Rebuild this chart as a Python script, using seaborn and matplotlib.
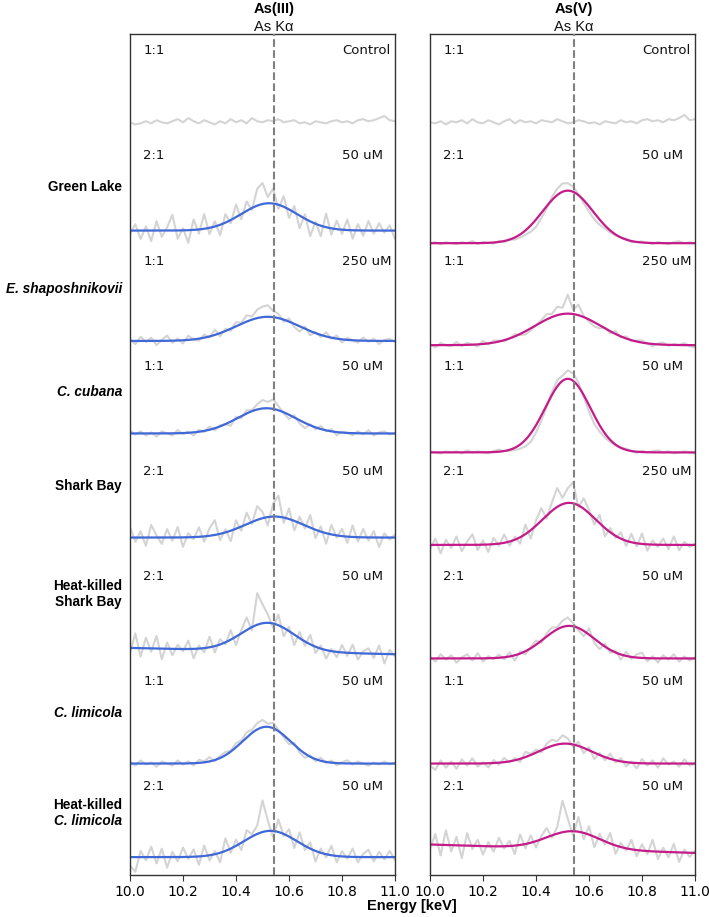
import numpy as np
import pandas as pd
import matplotlib
matplotlib.use("Agg")
import matplotlib.pyplot as plt
import seaborn as sns

# Energy channels of the measured spectra (keV)
energy = np.round(np.linspace(10.0, 11.0, 51), 2)
as_kalpha = 10.544

samples = ["Control", "Green Lake", "E. shaposhnikovii", "C. cubana", "Shark Bay",
           "Heat-killed Shark Bay", "C. limicola", "Heat-killed C. limicola"]

# row labels: list of (text, italic) lines
row_label_lines = [
    [],
    [("Green Lake", False)],
    [("E. shaposhnikovii", True)],
    [("C. cubana", True)],
    [("Shark Bay", False)],
    [("Heat-killed", False), ("Shark Bay", False)],
    [("C. limicola", True)],
    [("Heat-killed", False), ("C. limicola", True)],
]

as3_ratio = ["1:1", "2:1", "1:1", "1:1", "2:1", "2:1", "1:1", "2:1"]
as3_conc = ["Control", "50 uM", "250 uM", "50 uM", "50 uM", "50 uM", "50 uM", "50 uM"]
as5_ratio = ["1:1", "2:1", "1:1", "1:1", "2:1", "2:1", "1:1", "2:1"]
as5_conc = ["Control", "50 uM", "250 uM", "50 uM", "250 uM", "50 uM", "50 uM", "50 uM"]

# Gaussian fit parameters (stacked intensity units, 100 per row)
as3_base = [716, 613, 508, 420, 321, 216, 106, 17]
as3_amp = [0, 26, 23, 24, 20, 27, 35, 25]
as3_center = [10.52, 10.525, 10.52, 10.515, 10.545, 10.52, 10.515, 10.53]
as3_sigma = [0.1, 0.105, 0.12, 0.11, 0.11, 0.1, 0.09, 0.1]
as3_drift = [0, 0, 0, 0, 0, -6, 0, 0]

as5_base = [716, 601, 504, 402, 314, 206, 106, 29]
as5_amp = [0, 50, 30, 70, 40, 31, 19, 17]
as5_center = [10.52, 10.52, 10.52, 10.52, 10.525, 10.525, 10.51, 10.54]
as5_sigma = [0.1, 0.095, 0.125, 0.085, 0.1, 0.095, 0.1, 0.1]
as5_drift = [0, 0, 0, 0, 0, 0, 0, -8]

# measured minus fit, per channel
as3_control = [0, -2, -1, 1, -1, 2, 0, -1, 1, 3, 0, 4, 1, -1, 2, 0, -2, 1, -1, 3, 0, 2, -1, 4, 1, 0,
               2, 1, 3, 0, 1, 2, -1, 0, -2, 1, 0, -1, 1, 2, 0, 1, -1, 2, 3, 1, 2, 4, 6, 2, 1]
as3_green_lake = [-3, 6, -8, 4, -10, 9, -6, 3, 15, -8, 2, -12, 10, -4, 14, -6, 5, -10, 8, -3, 12, -5,
                  9, -2, 16, 20, 6, 14, -4, 10, -8, 6, -12, 4, -14, 2, -10, 13, -6, 8, -4, 10, -8, 6,
                  -5, 9, -3, 7, -2, 5, -8]
as3_e_shap = [2, -3, 4, -1, 3, -4, 1, 5, -2, 2, -3, 4, 0, -2, 3, -1, 5, -3, 2, -2, 4, 1, 6, 3, 8, 10,
              11, 6, 4, -2, 3, -3, -5, 2, -4, 1, -2, 4, -1, 3, -3, 2, 0, -2, 3, -1, 2, -3, 1, 2, -1]
as3_c_cubana = [3, -1, 2, -2, 1, -3, 2, 0, -2, 3, -1, 1, -3, 2, -1, 3, -2, 1, 0, -4, 2, -2, 3, 1, 5, 8,
                6, 9, 4, -1, -4, 2, -3, -5, 1, -2, 3, -1, 2, -3, 1, 0, -2, 2, -1, 3, -2, 1, 2, -1, 0]
as3_shark_bay = [10, -4, 6, -8, 12, 2, -6, 8, -3, 10, -9, 4, -2, 9, -5, 7, 14, -6, 3, -10, 8, -4, 11,
                 -2, 13, 6, -8, 12, 20, -5, 10, -9, 6, -3, 12, -8, 5, -10, 9, -2, 7, -6, 11, -4, 8,
                 -3, 6, -9, 4, -2, 3]
as3_hk_shark_bay = [-5, 14, -8, 10, -3, 12, -10, 6, -6, 4, -2, 8, -9, 3, -4, 10, -6, 5, -2, 9, -8, 3,
                    12, -3, 30, 18, 8, -4, 10, -8, 4, -10, 6, -4, 9, -6, 3, -8, 2, -5, 7, -3, 8, -6,
                    2, 5, -4, 8, -9, 4, -2]
as3_c_limicola = [2, -2, 3, -1, 1, -3, 2, 0, -2, 3, -1, 2, -2, 3, 1, 4, -1, 2, 3, 1, 4, 2, 5, 3, 6, 7,
                  3, 5, 1, -2, -4, 2, -3, -4, 1, -2, 3, -1, 2, -2, 1, 3, -1, 2, 0, -2, 1, -1, 2, -1, 1]
as3_hk_c_limicola = [-8, -14, 6, -3, 10, -6, 8, -10, 5, -4, 9, -2, 7, -8, 10, -5, 3, -9, 12, -4, 6,
                     -7, 9, 2, 8, 30, 10, -6, 12, -2, 7, -8, 10, -4, 6, -10, 4, -3, 9, -6, 5, -2, 8,
                     -5, 3, 7, -4, 5, -2, 6, -3]

as5_control = [0, -1, 1, -2, 1, 0, 2, -1, 3, 0, -1, 2, 0, -2, 1, 3, -1, 2, 0, 1, -1, 2, 1, 0, 3, 1,
               -1, 0, 2, 1, -1, 0, -2, 1, 0, -1, 2, 0, 1, -1, 2, 3, 1, 2, 0, 3, 2, 4, 7, 2, 3]
as5_green_lake = [0, 1, -1, 1, 0, -1, 1, 0, 2, -1, 1, 0, -1, 1, -1, 0, -2, -3, -4, -6, -7, -5, -2, 3,
                  6, 8, 7, 5, 1, -3, -5, -6, -5, -3, -2, -1, 0, 1, -1, 0, 1, 0, -1, 1, 0, -1, 1, 2,
                  0, 1, 0]
as5_e_shap = [1, -2, 2, 0, -1, 3, -1, 2, 0, -2, 3, -1, 2, 1, -1, 0, 2, -1, -3, -2, 0, 2, 5, 3, 8, 6,
              18, 4, 10, 1, -2, -4, -3, 1, -2, 3, -1, 2, -1, 1, 2, 0, -2, 1, 2, -1, 1, 0, 2, -1, -2]
as5_c_cubana = [1, 0, -1, 1, 0, 1, -1, 2, 0, 1, 0, -1, 1, 2, 0, -1, -2, -4, -6, -8, -7, -5, -2, 3, 6,
                5, 8, 7, 4, -2, -6, -8, -6, -4, -2, -1, 0, 1, 0, -1, 1, 0, 1, 2, 0, 1, -1, 0, 1, 0, -1]
as5_shark_bay = [-4, 6, -8, 5, -3, 8, -6, 3, 10, -5, 4, -7, 6, -2, 8, -4, 3, -6, 9, -8, 5, 12, -3, 8,
                 18, 6, 14, 20, -2, 10, 3, -6, 8, -8, 4, -2, 6, -5, 8, -3, 10, -6, 4, -2, 6, -4, 8,
                 -5, 3, -2, 1]
as5_hk_shark_bay = [2, -3, 4, -1, 3, -4, 1, 4, -2, 5, -3, 2, -1, 3, -2, 4, -5, 2, -3, 1, 4, -2, 3, 5,
                    2, 6, 8, 3, -2, -5, 6, -4, -6, 3, -3, 2, -5, 4, -2, 3, 5, -3, 2, -4, 3, -1, 4,
                    -3, 2, -2, 1]
as5_c_limicola = [-2, -6, 3, -4, 2, -5, 4, -2, 5, -3, 1, -4, 3, -2, 4, -1, 2, -3, 5, 1, 3, -2, 4, 6,
                  3, 8, 5, -2, 4, -5, 3, -6, 2, -3, 5, -2, 3, -4, 1, -5, 4, -2, 3, -4, 5, -1, 2, -3,
                  4, -2, 0]
as5_hk_c_limicola = [-4, 10, -10, 14, -6, 8, -12, 12, -3, 6, -8, 4, -5, 8, -2, 5, -8, 10, -4, 7, -6,
                     3, 9, -2, 6, 30, 12, -4, 14, -6, 8, -10, 5, -3, 10, -8, 4, -2, 9, -6, 6, -3, 11,
                     -7, 4, -5, 8, -9, 3, -4, 2]

as3_noise = [as3_control, as3_green_lake, as3_e_shap, as3_c_cubana, as3_shark_bay,
             as3_hk_shark_bay, as3_c_limicola, as3_hk_c_limicola]
as5_noise = [as5_control, as5_green_lake, as5_e_shap, as5_c_cubana, as5_shark_bay,
             as5_hk_shark_bay, as5_c_limicola, as5_hk_c_limicola]

# vertical centre of the row labels (stacked units)
label_y = [None, 654, 557, 459, 370, 267, 154, 59]


def gauss_fit(x, base, amp, center, sigma, drift):
    return base + drift * (x - 10.0) + amp * np.exp(-0.5 * ((x - center) / sigma) ** 2)


sns.set_style("ticks")
plt.rcParams["font.family"] = ["DejaVu Sans"]
plt.rcParams["text.color"] = "black"
plt.rcParams["xtick.color"] = "black"

fig = plt.figure(figsize=(7.09, 9.17), dpi=100)
ax_left = fig.add_axes([130 / 709, 42 / 917, 265 / 709, 841 / 917])
ax_right = fig.add_axes([430 / 709, 42 / 917, 265 / 709, 841 / 917])

panels = [
    (ax_left, "As(III)", "#3f68d9", as3_base, as3_amp, as3_center, as3_sigma, as3_drift,
     as3_noise, as3_ratio, as3_conc),
    (ax_right, "As(V)", "#c51b8a", as5_base, as5_amp, as5_center, as5_sigma, as5_drift,
     as5_noise, as5_ratio, as5_conc),
]

x_fine = np.linspace(10.0, 11.0, 301)

for ax, title, color, base, amp, cen, sig, drift, noise, ratio, conc in panels:
    for i, name in enumerate(samples):
        measured = gauss_fit(energy, base[i], amp[i], cen[i], sig[i], drift[i]) + np.array(noise[i])
        df = pd.DataFrame({"energy": energy, "intensity": measured})
        sns.lineplot(data=df, x="energy", y="intensity", ax=ax, color="#d4d4d4", lw=1.5,
                     estimator=None, sort=False, zorder=1)
        if amp[i] > 0:
            fit_df = pd.DataFrame({"energy": x_fine,
                                   "intensity": gauss_fit(x_fine, base[i], amp[i], cen[i], sig[i], drift[i])})
            sns.lineplot(data=fit_df, x="energy", y="intensity", ax=ax, color=color, lw=1.6,
                         estimator=None, sort=False, zorder=2)
        top = 800 - 100 * i
        ax.text(10.05, top - 16, ratio[i], fontsize=9.5, va="center", ha="left", color="#111111")
        ax.text(10.80, top - 16, conc[i], fontsize=9.5, va="center", ha="left", color="#111111")

    ax.axvline(as_kalpha, color="#808080", lw=1.5, ls="--", zorder=3)
    ax.set_xlim(10.0, 11.0)
    ax.set_ylim(0, 800)
    ax.set_xticks(np.round(np.arange(10.0, 11.01, 0.2), 1))
    ax.set_xticklabels([f"{t:.1f}" for t in np.arange(10.0, 11.01, 0.2)], fontsize=10,
                       color="black")
    ax.set_yticks([])
    ax.set_xlabel("")
    ax.set_ylabel("")
    for s in ax.spines.values():
        s.set_color("#333333")
        s.set_linewidth(1.0)
    ax.tick_params(axis="x", length=4, color="#333333")

    trans = ax.get_xaxis_transform()
    ax.text(as_kalpha, 1.025, title, transform=trans, ha="center", va="baseline",
            fontsize=10.5, fontweight="bold", family="Liberation Sans", color="black")
    ax.text(as_kalpha, 1.003, "As Kα", transform=trans, ha="center", va="baseline",
            fontsize=10.5, family="Liberation Sans", color="#111111")

# sample names on the left of the As(III) panel
for i, lines in enumerate(row_label_lines):
    if not lines:
        continue
    n = len(lines)
    for j, (txt, italic) in enumerate(lines):
        y = label_y[i] + (n - 1) * 7.6 - j * 15.2
        ax_left.text(-0.03, y, txt, transform=ax_left.get_yaxis_transform(), ha="right",
                     va="center", fontsize=9.8, fontweight="bold", color="black",
                     fontstyle="italic" if italic else "normal", family="Liberation Sans")

fig.text(412 / 709, 1 - 906 / 917, "Energy [keV]", ha="center", va="center",
         fontsize=10.5, fontweight="bold", family="Liberation Sans", color="black")

fig.savefig("out.png", dpi=100)
